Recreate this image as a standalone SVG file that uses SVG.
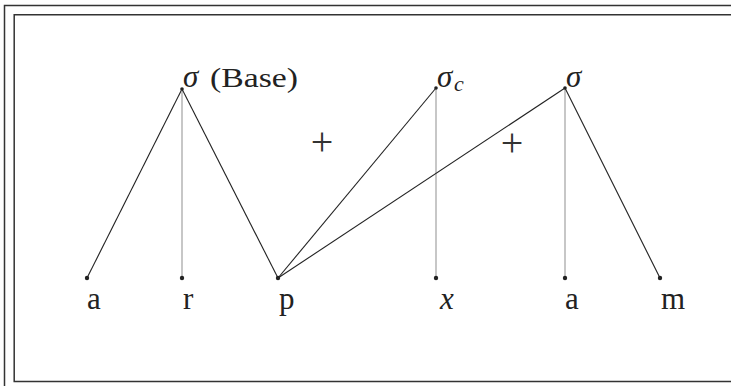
<svg xmlns="http://www.w3.org/2000/svg" width="731" height="387" viewBox="0 0 731 387">
<style>
.frame{fill:none;stroke:#333;stroke-width:1.5}
.edge{stroke:#222;stroke-width:1.1;fill:none}
.vedge{stroke:#999;stroke-width:1.1;fill:none}
.dot{fill:#222}
.lbl{font-family:"Liberation Serif",serif;font-size:31px;fill:#222}
.sig{font-family:"Liberation Serif",serif;font-style:italic;font-size:31px;fill:#222}
.sub{font-family:"Liberation Serif",serif;font-style:italic;font-size:22px;fill:#222}
.base{font-family:"Liberation Serif",serif;font-size:28px;fill:#222}
.plus{font-family:"Liberation Serif",serif;font-size:40px;fill:#333;text-anchor:middle}
</style>
<rect width="731" height="387" fill="#fff"/>
<g id="frame">
<path class="frame" d="M4.5,386 V5.5 H731" stroke-width="1.2"/>
<path class="frame" d="M731,14.8 H14.2 V381.5 H731"/>
</g>
<g id="connectors">
<line class="edge" x1="182" y1="89" x2="87" y2="278"/>
<line class="vedge" x1="182" y1="89" x2="182" y2="278"/>
<line class="edge" x1="182" y1="89" x2="278" y2="278"/>
<line class="edge" x1="436" y1="88" x2="278" y2="278"/>
<line class="vedge" x1="436" y1="88" x2="436" y2="278"/>
<line class="edge" x1="565" y1="88" x2="278" y2="278"/>
<line class="vedge" x1="565" y1="88" x2="565" y2="278"/>
<line class="edge" x1="565" y1="88" x2="660" y2="278"/>
</g>
<g id="n-sigma-base">
<circle class="dot" cx="182" cy="89" r="1.8"/>
<text class="sig" x="183" y="87">σ</text>
<text class="base" x="210" y="87" textLength="88" lengthAdjust="spacingAndGlyphs">(Base)</text>
</g>
<g id="n-sigma-c">
<circle class="dot" cx="436" cy="88" r="1.8"/>
<text class="sig" x="437" y="87">σ</text>
<text class="sub" x="454" y="91">c</text>
</g>
<g id="n-sigma">
<circle class="dot" cx="565" cy="88" r="1.8"/>
<text class="sig" x="566" y="87">σ</text>
</g>
<g id="n-a1"><circle class="dot" cx="87" cy="278" r="2.2"/><text class="lbl" x="87" y="309">a</text></g>
<g id="n-r"><circle class="dot" cx="182" cy="278" r="2.2"/><text class="lbl" x="183" y="309">r</text></g>
<g id="n-p"><circle class="dot" cx="278" cy="278" r="2.2"/><text class="lbl" x="279" y="309">p</text></g>
<g id="n-x"><circle class="dot" cx="436" cy="278" r="2.2"/><text class="lbl" x="440" y="309" font-style="italic">x</text></g>
<g id="n-a2"><circle class="dot" cx="565" cy="278" r="2.2"/><text class="lbl" x="565" y="309">a</text></g>
<g id="n-m"><circle class="dot" cx="660" cy="278" r="2.2"/><text class="lbl" x="661" y="309">m</text></g>
<g id="ops">
<text class="plus" x="322" y="155">+</text>
<text class="plus" x="512" y="156">+</text>
</g>
</svg>
